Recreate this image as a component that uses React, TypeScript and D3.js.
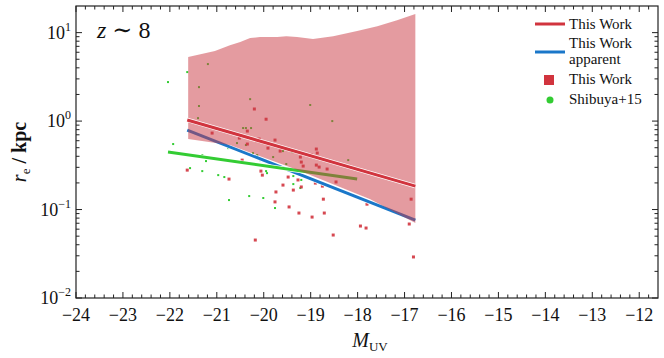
import React from "react";
import * as d3 from "d3";

// fit lines [M_UV, r_e]
const thisWorkFit: [number, number][] = [[-21.63, 1.03], [-16.77, 0.184]];
const apparentFit: [number, number][] = [[-21.63, 0.79], [-16.77, 0.076]];
const shibuyaFit: [number, number][] = [[-22.04, 0.447], [-18.01, 0.221]];

// uncertainty band
const bandUpper: [number, number][] = [
  [-21.61, 5.29], [-21.04, 6.18], [-20.72, 7.22], [-20.5, 7.81], [-20.29, 8.67],
  [-20.08, 8.9], [-19.71, 8.9], [-19.52, 9.13], [-19.29, 8.9], [-18.95, 8.45],
  [-18.52, 9.13], [-18.01, 10.4], [-17.58, 11.8], [-17.16, 13.8], [-16.77, 16.2],
];
const bandLower: [number, number][] = [
  [-21.61, 0.626], [-20.72, 0.536], [-19.22, 0.272], [-17.73, 0.131], [-16.77, 0.0704],
];

const thisWorkPts: [number, number][] = [
  [-21.63, 0.279], [-21.1, 0.732], [-20.74, 0.221], [-20.52, 0.643], [-20.46, 0.362],
  [-20.35, 0.771], [-20.35, 0.55], [-20.2, 1.37], [-20.18, 0.0452], [-20.1, 0.626],
  [-20.06, 0.272], [-20.03, 0.245], [-19.95, 1.05], [-19.91, 0.495], [-19.76, 0.61],
  [-19.74, 0.158], [-19.76, 0.122], [-19.65, 0.458], [-19.59, 0.189], [-19.48, 0.233],
  [-19.46, 0.107], [-19.37, 0.166], [-19.29, 0.446], [-19.27, 0.216], [-19.22, 0.392],
  [-19.2, 0.344], [-19.2, 0.18], [-19.16, 0.31], [-19.25, 0.0913], [-18.99, 0.413],
  [-18.97, 0.0822], [-18.9, 0.199], [-18.88, 0.483], [-18.86, 0.435], [-18.88, 0.318],
  [-18.82, 0.302], [-18.75, 0.184], [-18.73, 0.131], [-18.71, 0.0913], [-18.65, 0.287],
  [-18.46, 0.205], [-18.52, 0.0515], [-17.94, 0.0651], [-17.82, 0.0618], [-17.8, 0.115],
  [-16.9, 0.0686], [-16.86, 0.131], [-16.81, 0.0291],
];

const shibuyaPts: [number, number][] = [
  [-22.04, 2.76], [-21.63, 3.58], [-21.19, 4.41], [-21.38, 2.42], [-21.38, 1.48],
  [-21.4, 1.08], [-20.29, 1.77], [-19.01, 1.52], [-18.54, 1.0], [-21.93, 0.55],
  [-21.57, 0.294], [-21.31, 0.413], [-21.23, 0.353], [-21.31, 0.272], [-20.97, 0.245],
  [-20.84, 0.233], [-20.76, 0.495], [-20.57, 0.564], [-20.44, 0.834], [-20.38, 0.834],
  [-20.27, 0.834], [-20.38, 0.536], [-20.23, 0.435], [-20.14, 0.413], [-20.08, 0.362],
  [-19.95, 0.272], [-19.93, 0.258], [-19.8, 0.392], [-19.59, 0.458], [-19.39, 0.446],
  [-19.52, 0.327], [-19.37, 0.239], [-19.2, 0.216], [-19.37, 0.194], [-19.22, 0.175],
  [-20.74, 0.128], [-20.31, 0.142], [-20.01, 0.135], [-19.76, 0.104], [-18.2, 0.362],
];

const xTicks = d3.range(-24, -11.9, 1);
const yTicks = [0.01, 0.1, 1, 10];
const yTickExp = ["−2", "−1", "0", "1"];

const W = 664, H = 358;
const L = 76, R = 658, T = 6, B = 298;
const RED = "#d1343e", BLUE = "#1a77c9", GREEN = "#33cc33";
const FONT = "'Liberation Serif', 'DejaVu Serif', serif";

export default function App() {
  const x = d3.scaleLinear().domain([-24, -11.6]).range([L, R]);
  const y = d3.scaleLog().domain([0.01, 20]).range([B, T]);
  const line = d3.line<[number, number]>().x(d => x(d[0])).y(d => y(d[1]));
  const band = line([...bandUpper, ...bandLower.slice().reverse()]) + "Z";

  const xMinor = d3.range(-24, -11.6, 0.2).filter(v => Math.abs(v - Math.round(v)) > 0.01);
  const yMinor: number[] = [];
  for (let k = -2; k <= 1; k++) for (let m = 2; m <= 9; m++) if (m * 10 ** k < 20) yMinor.push(m * 10 ** k);

  return (
    <svg width={W} height={H} style={{ position: "absolute", left: 0, top: 0 }} fontFamily={FONT}>
      <rect width={W} height={H} fill="#fff" />
      {/* points */}
      {shibuyaPts.map((d, i) => (
        <rect key={"g" + i} x={x(d[0]) - 1} y={y(d[1]) - 1} width={2} height={2} fill={GREEN} />
      ))}
      {thisWorkPts.map((d, i) => (
        <rect key={"r" + i} x={x(d[0]) - 1.5} y={y(d[1]) - 1.5} width={3} height={3} fill={RED} opacity={0.9} />
      ))}
      {/* fits under the band */}
      <path d={line(apparentFit)!} stroke="#fff" strokeWidth={4.4} fill="none" />
      <path d={line(apparentFit)!} stroke={BLUE} strokeWidth={3} fill="none" />
      <path d={line(shibuyaFit)!} stroke="#fff" strokeWidth={4.4} fill="none" />
      <path d={line(shibuyaFit)!} stroke={GREEN} strokeWidth={3} fill="none" />
      <path d={band} fill="rgb(201,55,65)" fillOpacity={0.5} stroke="none" />
      <path d={line(thisWorkFit)!} stroke="#fff" strokeWidth={4.4} fill="none" />
      <path d={line(thisWorkFit)!} stroke={RED} strokeWidth={3} fill="none" />

      {/* frame and ticks */}
      <rect x={L} y={T} width={R - L} height={B - T} fill="none" stroke="#222" strokeWidth={1.2} />
      <g stroke="#222" strokeWidth={1}>
        {xTicks.map(v => (
          <g key={"xt" + v}>
            <line x1={x(v)} x2={x(v)} y1={B} y2={B - 6} />
            <line x1={x(v)} x2={x(v)} y1={T} y2={T + 6} />
          </g>
        ))}
        {xMinor.map((v, i) => (
          <g key={"xm" + i}>
            <line x1={x(v)} x2={x(v)} y1={B} y2={B - 3.5} />
            <line x1={x(v)} x2={x(v)} y1={T} y2={T + 3.5} />
          </g>
        ))}
        {yTicks.map(v => (
          <g key={"yt" + v}>
            <line x1={L} x2={L + 6} y1={y(v)} y2={y(v)} />
            <line x1={R} x2={R - 6} y1={y(v)} y2={y(v)} />
          </g>
        ))}
        {yMinor.map((v, i) => (
          <g key={"ym" + i}>
            <line x1={L} x2={L + 3.5} y1={y(v)} y2={y(v)} />
            <line x1={R} x2={R - 3.5} y1={y(v)} y2={y(v)} />
          </g>
        ))}
      </g>
      <g fontSize={18} fill="#111">
        {xTicks.map(v => (
          <text key={"xl" + v} x={x(v)} y={321} textAnchor="middle">{"−" + Math.abs(v)}</text>
        ))}
        {yTicks.map((v, i) => (
          <text key={"yl" + v} x={71} y={y(v) + 6} textAnchor="end">
            10<tspan fontSize={12} dy={-8}>{yTickExp[i]}</tspan>
          </text>
        ))}
      </g>

      {/* axis labels */}
      <text x={370} y={347} textAnchor="middle" fontSize={20} fill="#111">
        <tspan fontStyle="italic">M</tspan>
        <tspan fontSize={13} dy={4}>UV</tspan>
      </text>
      <text transform="translate(26,152) rotate(-90)" textAnchor="middle" fontSize={20} fill="#111">
        <tspan fontStyle="italic">r</tspan>
        <tspan fontSize={13} dy={4}>e</tspan>
        <tspan dy={-4} fontWeight="bold"> / kpc</tspan>
      </text>
      <text x={97} y={38} fontSize={24} fill="#111">
        <tspan fontStyle="italic">z</tspan> ∼ 8
      </text>

      {/* legend */}
      <g fontSize={15} fill="#111">
        <line x1={535} x2={565} y1={24} y2={24} stroke={RED} strokeWidth={3} />
        <text x={569} y={29}>This Work</text>
        <line x1={535} x2={565} y1={52} y2={52} stroke={BLUE} strokeWidth={3} />
        <text x={569} y={48}>This Work</text>
        <text x={569} y={64}>apparent</text>
        <rect x={544} y={75} width={10} height={10} fill={RED} />
        <text x={569} y={84}>This Work</text>
        <circle cx={550} cy={100} r={3.5} fill={GREEN} />
        <text x={569} y={104}>Shibuya+15</text>
      </g>
    </svg>
  );
}
